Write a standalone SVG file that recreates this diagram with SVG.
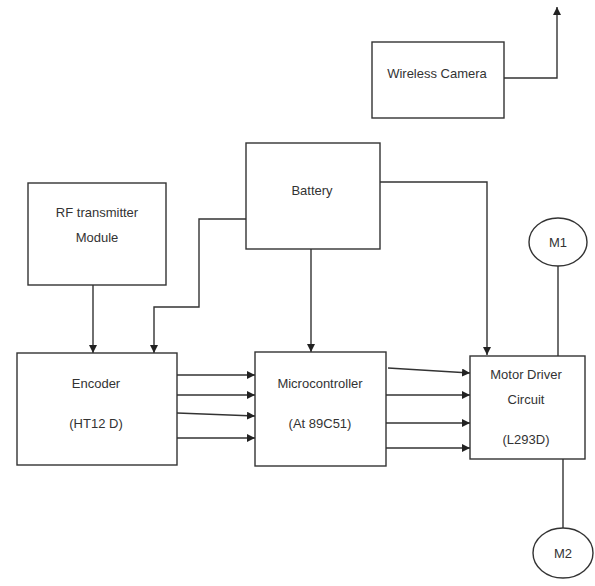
<svg xmlns="http://www.w3.org/2000/svg" width="595" height="586" viewBox="0 0 595 586">
<defs>
<marker id="ah" viewBox="0 0 10 10" refX="10" refY="5" markerWidth="8" markerHeight="8" markerUnits="userSpaceOnUse" orient="auto">
<path d="M0,0 L10,5 L0,10 z" fill="#222"/>
</marker>
</defs>
<style>
.box{fill:#fff;stroke:#333;stroke-width:1.4}
.t{font-family:"Liberation Sans",Arial,sans-serif;font-size:13px;fill:#333;text-anchor:middle}
.c{fill:none;stroke:#333;stroke-width:1.4}
.a{fill:none;stroke:#333;stroke-width:1.4;marker-end:url(#ah)}
</style>
<rect width="595" height="586" fill="#fff"/>
<g id="connectors">
<path class="a" d="M504,78 H557 V7"/>
<path class="a" d="M93,285 V353"/>
<path class="a" d="M246,219 H199 V307 H154 V353"/>
<path class="a" d="M311,249 V352"/>
<path class="a" d="M380,182 H487 V355"/>
<path class="a" d="M177,375 H255"/>
<path class="a" d="M177,395 H255"/>
<path class="a" d="M177,413 L255,416"/>
<path class="a" d="M177,438 H255"/>
<path class="a" d="M388,368 L470,373"/>
<path class="a" d="M386,395 H470"/>
<path class="a" d="M386,423 H470"/>
<path class="a" d="M386,448 H470"/>
<path class="c" d="M558,266 V356"/>
<path class="c" d="M563,459 V528"/>
</g>
<g id="wireless-camera">
<rect class="box" x="372" y="42" width="132" height="76"/>
<text class="t" x="437" y="78">Wireless Camera</text>
</g>
<g id="battery">
<rect class="box" x="246" y="143" width="134" height="106"/>
<text class="t" x="312" y="195">Battery</text>
</g>
<g id="rf-module">
<rect class="box" x="28" y="183" width="138" height="102"/>
<text class="t" x="97" y="217">RF transmitter</text>
<text class="t" x="97" y="242">Module</text>
</g>
<g id="encoder">
<rect class="box" x="17" y="353" width="160" height="112"/>
<text class="t" x="96" y="388">Encoder</text>
<text class="t" x="96" y="428">(HT12 D)</text>
</g>
<g id="microcontroller">
<rect class="box" x="255" y="352" width="131" height="114"/>
<text class="t" x="320" y="388">Microcontroller</text>
<text class="t" x="320" y="428">(At 89C51)</text>
</g>
<g id="motor-driver">
<rect class="box" x="470" y="356" width="115" height="103"/>
<text class="t" x="526" y="379">Motor Driver</text>
<text class="t" x="526" y="404">Circuit</text>
<text class="t" x="526" y="444">(L293D)</text>
</g>
<g id="m1">
<ellipse class="box" cx="558" cy="242" rx="29" ry="24"/>
<text class="t" x="558" y="247">M1</text>
</g>
<g id="m2">
<ellipse class="box" cx="563" cy="553" rx="30" ry="25"/>
<text class="t" x="563" y="558">M2</text>
</g>
</svg>
